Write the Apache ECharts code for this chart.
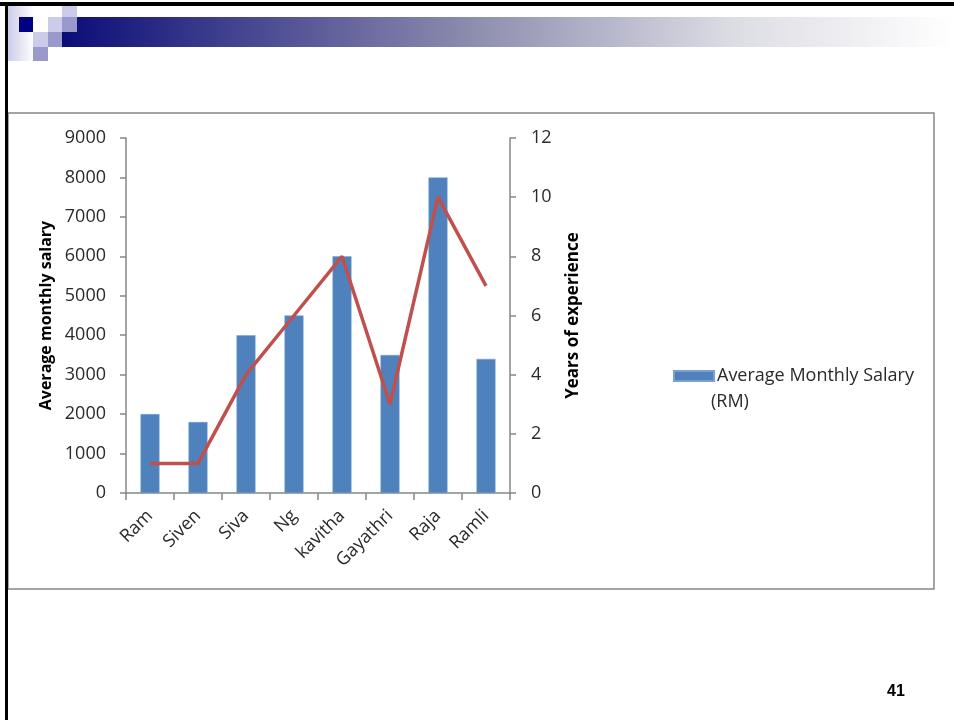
<!DOCTYPE html>
<html>
<head>
<meta charset="utf-8">
<script src="https://cdn.jsdelivr.net/npm/echarts@6/dist/echarts.min.js"></script>
<style>
  html, body { margin: 0; padding: 0; background: #fff; }
  #main { width: 954px; height: 720px; }
</style>
</head>
<body>
<div id="main"></div>
<script>
var names = ['Ram', 'Siven', 'Siva', 'Ng', 'kavitha', 'Gayathri', 'Raja', 'Ramli'];
var salary = [2000, 1800, 4000, 4500, 6000, 3500, 8000, 3400];
var experience = [1, 1, 4, 6, 8, 3, 10, 7];

var fontName = 'Open Sans';
var axisGray = '#868686';
var textColor = '#2a2a2a';

// slide decoration (header squares + gradient bar)
var deco = [
  // slide frame
  { type: 'rect', shape: { x: 0, y: 2, width: 954, height: 4 }, style: { fill: '#000' } },
  { type: 'rect', shape: { x: 5, y: 2, width: 3, height: 718 }, style: { fill: '#000' } },
  // gradient bar
  { type: 'rect', shape: { x: 62, y: 17, width: 892, height: 30 },
    style: { fill: new echarts.graphic.LinearGradient(0, 0, 1, 0, [
      { offset: 0, color: '#0c0c78' },
      { offset: 0.45, color: '#8a8aad' },
      { offset: 0.75, color: '#dcdce4' },
      { offset: 1, color: '#ffffff' }
    ]) } },
  // left faded strip
  { type: 'rect', shape: { x: 8, y: 6, width: 26, height: 55 },
    style: { fill: new echarts.graphic.LinearGradient(0, 0, 1, 0, [
      { offset: 0, color: '#ccccea' }, { offset: 1, color: '#ffffff' }
    ]) } },
  { type: 'rect', shape: { x: 62, y: 6, width: 15, height: 11 }, style: { fill: '#ccccea' } },
  { type: 'rect', shape: { x: 19, y: 17, width: 14, height: 15 }, style: { fill: '#000080' } },
  { type: 'rect', shape: { x: 33, y: 17, width: 15, height: 15 }, style: { fill: '#ffffff' } },
  { type: 'rect', shape: { x: 48, y: 17, width: 14, height: 15 }, style: { fill: '#ccccea' } },
  { type: 'rect', shape: { x: 62, y: 17, width: 15, height: 15 }, style: { fill: '#9999cc' } },
  { type: 'rect', shape: { x: 33, y: 32, width: 15, height: 15 }, style: { fill: '#ccccea' } },
  { type: 'rect', shape: { x: 48, y: 32, width: 14, height: 15 }, style: { fill: '#9999cc' } },
  { type: 'rect', shape: { x: 33, y: 47, width: 15, height: 14 }, style: { fill: '#9999cc' } },
  // chart frame
  { type: 'rect', shape: { x: 8, y: 113, width: 926, height: 476 },
    style: { fill: 'none', stroke: axisGray, lineWidth: 1.5 }, z: -1 },
  // second legend line
  { type: 'text', left: 711, top: 393,
    style: { text: '(RM)', font: '18px "Open Sans"', fill: textColor } },
  // page number
  { type: 'text', left: 887, top: 684,
    style: { text: '41', font: 'bold 16px "Liberation Sans"', fill: '#000' } }
];

var option = {
  animation: false,
  backgroundColor: '#fff',
  textStyle: { fontFamily: fontName },
  graphic: deco,
  grid: { left: 126, right: 444, top: 138, bottom: 227 },
  legend: {
    left: 668, top: 362,
    itemWidth: 40, itemHeight: 10, itemGap: 4,
    data: [{ name: 'Average Monthly Salary (RM)', icon: 'rect' }],
    formatter: function () { return 'Average Monthly Salary'; },
    textStyle: { fontSize: 18, color: textColor, fontFamily: fontName, padding: [0, 0, 0, -2] }
  },
  xAxis: {
    type: 'category',
    data: names,
    axisLine: { lineStyle: { color: axisGray, width: 1.5 } },
    axisTick: { show: true, length: 7, lineStyle: { color: axisGray, width: 1.5 } },
    axisLabel: { rotate: 45, fontSize: 18, color: textColor, margin: 20, interval: 0 }
  },
  yAxis: [{
    type: 'value',
    min: 0, max: 9000, interval: 1000,
    name: 'Average monthly salary',
    nameLocation: 'middle', nameRotate: 90, nameGap: 72,
    nameTextStyle: { fontSize: 16, fontWeight: 'bold', color: '#000' },
    axisLine: { show: true, lineStyle: { color: axisGray, width: 1.5 } },
    axisTick: { show: true, length: 6, lineStyle: { color: axisGray, width: 1.5 } },
    axisLabel: { fontSize: 18, color: textColor, margin: 20,
      formatter: function (v) { return String(v); } },
    splitLine: { show: false }
  }, {
    type: 'value',
    position: 'right',
    min: 0, max: 12, interval: 2,
    name: 'Years of experience',
    nameLocation: 'middle', nameRotate: 90, nameGap: 55,
    nameTextStyle: { fontSize: 17, fontWeight: 'bold', color: '#000' },
    axisLine: { show: true, lineStyle: { color: axisGray, width: 1.5 } },
    axisTick: { show: true, length: 6, lineStyle: { color: axisGray, width: 1.5 } },
    axisLabel: { fontSize: 18, color: textColor, margin: 21 },
    splitLine: { show: false }
  }],
  series: [{
    name: 'Average Monthly Salary (RM)',
    type: 'bar',
    data: salary,
    barWidth: 19,
    itemStyle: { color: '#4f81bd', borderColor: '#7aa0d0', borderWidth: 0.5 }
  }, {
    name: 'Years of experience',
    type: 'line',
    yAxisIndex: 1,
    data: experience,
    showSymbol: false,
    symbol: 'none',
    lineStyle: { color: '#c0504d', width: 3.5 }
  }]
};

var chart = echarts.init(document.getElementById('main'));
chart.setOption(option);
</script>
</body>
</html>
